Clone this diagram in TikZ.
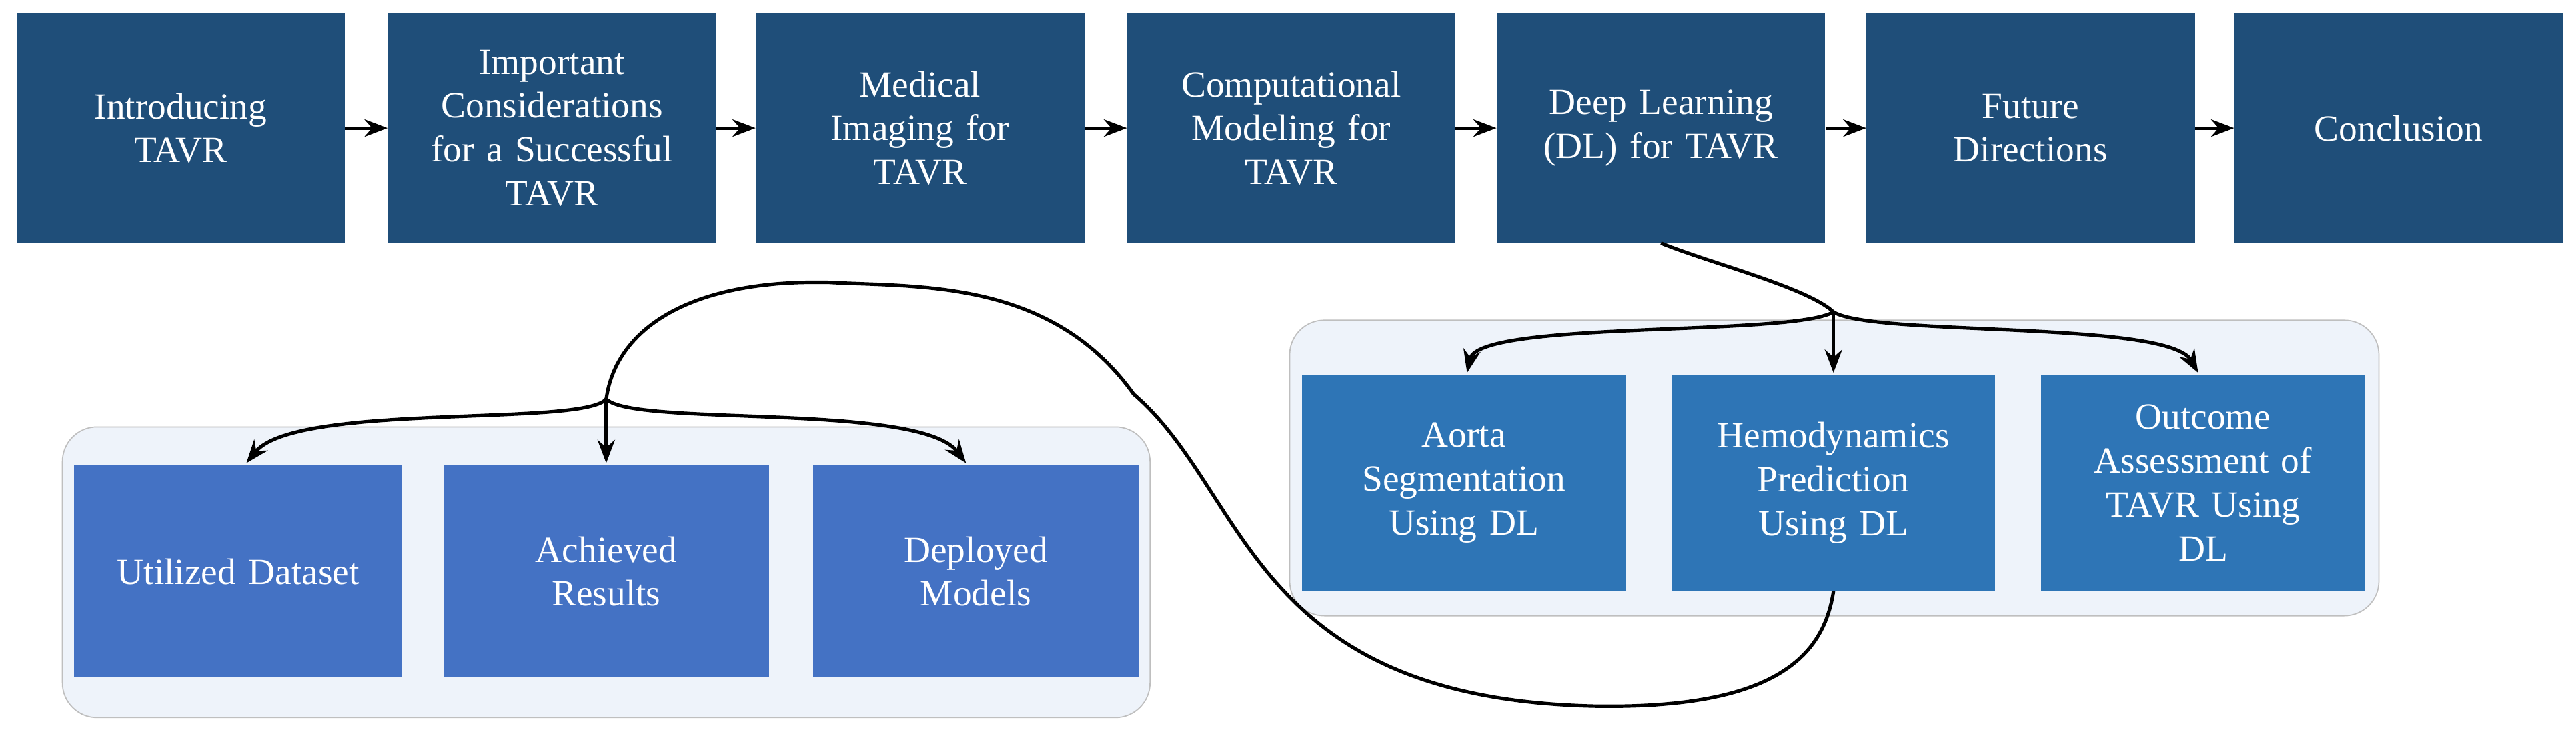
\documentclass[tikz,border=0pt]{standalone}
\usepackage{fontspec}
\setmainfont{Liberation Serif}
\usetikzlibrary{arrows.meta}
\definecolor{navy}{HTML}{1F4E79}
\definecolor{mid}{HTML}{2E75B6}
\definecolor{lb}{HTML}{4472C4}
\definecolor{pan}{HTML}{EEF3FA}
\begin{document}
\begin{tikzpicture}[x=0.1cm,y=-0.1cm,
 box/.style={draw=none,minimum width=200*0.1cm,minimum height=140*0.1cm,text=white,align=center,inner sep=0pt,text width=190*0.1cm,font=\fontsize{64}{76}\selectfont},
 sbox/.style={box,minimum width=197*0.1cm,minimum height=132*0.1cm,text width=185*0.1cm},
 panel/.style={draw=gray!50,line width=2pt,fill=pan,rounded corners=60pt},
 ar/.style={line width=6pt,-{Stealth[length=40pt,width=30pt]}},
 cv/.style={line width=6pt}]
\useasboundingbox (0,0) rectangle (1568,453);
\foreach \n/\x/\t in {a/110/Introducing\\TAVR, b/336/Important\\Considerations\\for a Successful\\TAVR, c/560/Medical\\Imaging for\\TAVR, d/786/Computational\\Modeling for\\TAVR, e/1011/Deep Learning\\(DL) for TAVR, f/1236/Future\\Directions, g/1460/Conclusion}
  \node[box,fill=navy] (\n) at (\x,78) {\t};
\foreach \p/\q in {a/b,b/c,c/d,d/e,e/f,f/g} \draw[ar] (\p.east) -- (\q.west);
\draw[panel] (785,195) rectangle (1448,375);
\draw[panel] (38,260) rectangle (700,437);
\node[sbox,fill=mid] (r1) at (891,294) {Aorta\\Segmentation\\Using DL};
\node[sbox,fill=mid] (r2) at (1116,294) {Hemodynamics\\Prediction\\Using DL};
\node[sbox,fill=mid] (r3) at (1341,294) {Outcome\\Assessment of\\TAVR Using\\DL};
\node[sbox,fill=lb,minimum width=200*0.1cm,minimum height=129*0.1cm] (l1) at (145,348) {Utilized Dataset};
\node[sbox,fill=lb,minimum width=198*0.1cm,minimum height=129*0.1cm] (l2) at (369,348) {Achieved\\Results};
\node[sbox,fill=lb,minimum width=198*0.1cm,minimum height=129*0.1cm] (l3) at (594,348) {Deployed\\Models};
\coordinate (j1) at (1116,190);
\coordinate (j2) at (369,243);
\draw[cv] (e.south) .. controls (1040,160) and (1100,175) .. (j1);
\draw[ar] (j1) .. controls (1090,205) and (900,195) .. (893,227);
\draw[ar] (j1) -- (1116,227);
\draw[ar] (j1) .. controls (1140,205) and (1320,195) .. (1338,227);
\draw[cv] (r2.south) .. controls (1110,400) and (1080,432) .. (970,430)
  .. controls (760,425) and (760,300) .. (690,240)
  .. controls (640,170) and (560,175) .. (505,172)
  .. controls (420,170) and (375,200) .. (j2);
\draw[ar] (j2) .. controls (355,260) and (180,245) .. (150,282);
\draw[ar] (j2) -- (369,282);
\draw[ar] (j2) .. controls (385,260) and (560,245) .. (588,282);
\end{tikzpicture}
\end{document}
